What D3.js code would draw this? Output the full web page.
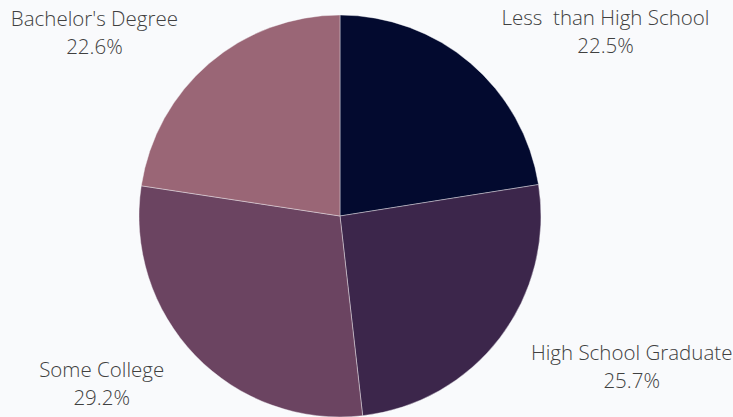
<!DOCTYPE html>
<html>
<head>
<meta charset="utf-8">
<script src="https://cdn.jsdelivr.net/npm/d3@7"></script>
<style>
  html, body { margin: 0; padding: 0; background: #f9fafc; }
  svg { display: block; }
  .lbl { font-family: "Open Sans", sans-serif; font-size: 20.5px; font-weight: 300; fill: #404040; white-space: pre; }
</style>
</head>
<body>
<svg id="chart"></svg>
<script>
const categories = ['Less  than High School', 'High School Graduate', 'Some College', "Bachelor's Degree"];
const shares = [22.5, 25.7, 29.2, 22.6];
const colors = ['#030a2f', '#3c264b', '#6b4461', '#9a6676'];

const width = 733, height = 417;
const cx = 340, cy = 216, radius = 201;

const svg = d3.select('#chart')
    .attr('width', width)
    .attr('height', height);

const g = svg.append('g')
    .attr('transform', `translate(${cx}, ${cy})`);

const data = categories.map((c, i) => ({ name: c, value: shares[i], color: colors[i] }));

const pie = d3.pie()
    .value(d => d.value)
    .sort(null);

const arc = d3.arc()
    .innerRadius(0)
    .outerRadius(radius);

const arcs = pie(data);

g.selectAll('path')
    .data(arcs)
    .join('path')
    .attr('d', arc)
    .attr('fill', d => d.data.color)
    .attr('stroke', '#f9fafc')
    .attr('stroke-width', 0.4);

// outside labels: box corner attached to slice edge at mid angle
const lineGap = 28;
const xGap = 31;
arcs.forEach(d => {
    const mid = (d.startAngle + d.endAngle) / 2;
    const px = Math.sin(mid) * radius;
    const py = -Math.cos(mid) * radius;
    const right = px >= 0;
    const upper = py < 0;

    const t = g.append('text')
        .attr('class', 'lbl')
        .attr('xml:space', 'preserve')
        .attr('text-anchor', 'middle');
    const l1 = t.append('tspan').text(d.data.name);
    const l2 = t.append('tspan').text(d.data.value.toFixed(1) + '%');

    const w = Math.max(l1.node().getComputedTextLength(), l2.node().getComputedTextLength());
    const boxCx = right ? px + xGap + w / 2 : px - xGap - w / 2;
    const y1 = upper ? py - 10 - lineGap : py + 22;

    l1.attr('x', boxCx).attr('y', y1);
    l2.attr('x', boxCx).attr('y', y1 + lineGap);
});
</script>
</body>
</html>
